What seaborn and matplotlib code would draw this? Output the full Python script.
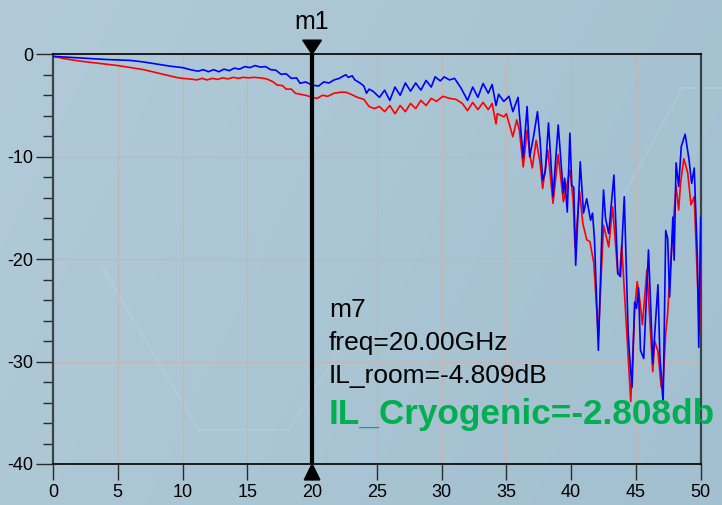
import numpy as np
import matplotlib
matplotlib.use("Agg")
import matplotlib.pyplot as plt
from matplotlib.ticker import MultipleLocator
from matplotlib.patches import Polygon
import seaborn as sns

# ---------------- data ----------------
freq_cryo = [0, 2, 4, 6, 7, 8, 9, 10, 10.6, 11.2, 11.6, 12.0, 12.4, 12.8, 13.2, 13.6, 14.0, 14.4,
             14.8, 15.2, 15.6, 16.0, 16.4, 16.8, 17.2, 17.6, 18.0, 18.4, 18.8, 19.07, 19.5, 20.0,
             20.5, 20.9, 21.3, 21.7, 22.1, 22.3, 22.6, 22.8, 23.1, 23.3, 23.7, 24.0, 24.2, 24.4,
             24.7, 25.2, 25.6, 26.0, 26.4, 26.8, 27.2, 27.6, 28.0, 28.4, 28.8, 29.2, 29.5, 29.9,
             30.2, 30.6, 31.0, 31.5, 32.0, 32.4, 32.8, 33.2, 33.6, 33.9, 34.2, 34.4, 34.8, 35.2,
             35.5, 35.9, 36.0, 36.3, 36.6, 36.8, 37.1, 37.4, 37.6, 37.8, 38.0, 38.25, 38.6, 39.0,
             39.4, 39.5, 39.7, 39.9, 40.05, 40.2, 40.35, 40.7, 40.95, 41.2, 41.5, 41.65, 41.8, 42.1,
             42.4, 42.5, 42.65, 42.9, 43.3, 43.6, 43.8, 44.1, 44.4, 44.55, 44.7, 44.9, 45.05, 45.2,
             45.35, 45.6, 45.97, 46.15, 46.3, 46.7, 46.85, 47.1, 47.3, 47.45, 47.6, 47.85, 47.95,
             48.1, 48.3, 48.5, 48.8, 49.1, 49.3, 49.5, 49.75, 49.85, 50.0]
il_cryo = [-0.2, -0.35, -0.5, -0.6, -0.75, -0.95, -1.15, -1.3, -1.5, -1.65, -1.5, -1.7, -1.5, -1.7,
           -1.45, -1.6, -1.35, -1.45, -1.2, -1.3, -1.1, -1.25, -1.2, -1.5, -1.55, -1.95, -1.9, -2.35,
           -2.3, -2.83, -2.7, -3.0, -3.1, -2.7, -2.8, -2.5, -2.35, -2.2, -2.0, -2.25, -2.1, -2.5,
           -2.8, -3.1, -3.8, -3.4, -3.6, -4.2, -3.5, -4.5, -3.2, -4.0, -2.8, -3.6, -2.8, -3.5,
           -2.55, -3.2, -2.2, -2.6, -2.2, -2.5, -2.35, -3.3, -4.5, -3.2, -4.2, -2.85, -3.8, -2.95,
           -5.0, -3.9, -4.6, -4.1, -5.6, -4.2, -5.8, -10.1, -5.1, -10.0, -8.0, -5.6, -8.4, -12.3,
           -11.5, -6.7, -13.9, -6.9, -13.6, -12.1, -15.4, -7.7, -12.8, -13.0, -20.6, -10.5, -15.5,
           -14.1, -16.2, -15.5, -18.1, -28.9, -16.2, -13.25, -16.0, -17.5, -11.8, -21.4, -21.7,
           -13.9, -27.2, -30.2, -32.5, -24.2, -24.8, -22.8, -28.9, -29.7, -19.1, -25.0, -30.2,
           -22.5, -29.5, -34.1, -17.2, -18.0, -23.7, -15.9, -20.1, -10.6, -12.9, -9.0, -7.8,
           -10.3, -12.6, -11.1, -20.1, -28.6, -15.9]

freq_room = [0, 1, 2, 3, 4, 5, 6, 7, 8, 9, 9.5, 10, 10.5, 11.1, 11.5, 11.9, 12.3, 12.7, 13.1, 13.5,
             13.9, 14.3, 14.7, 15.1, 15.5, 16.0, 16.5, 17.0, 17.3, 17.7, 18.0, 18.4, 18.7, 19.07,
             19.5, 20.0, 20.4, 20.8, 21.2, 21.7, 22.2, 22.6, 23.0, 23.5, 24.0, 24.4, 24.8, 25.2,
             25.6, 26.0, 26.4, 26.8, 27.2, 27.6, 28.0, 28.4, 28.8, 29.2, 29.6, 30.1, 30.6, 31.1,
             31.6, 32.0, 32.4, 32.8, 33.2, 33.6, 33.9, 34.2, 34.3, 34.8, 35.0, 35.5, 35.8, 36.0,
             36.3, 36.6, 36.8, 37.0, 37.3, 37.6, 37.8, 38.2, 38.6, 39.0, 39.4, 39.9, 40.15, 40.3,
             40.65, 40.9, 41.2, 41.45, 41.75, 42.1, 42.5, 42.9, 43.2, 43.6, 43.75, 43.9, 44.4, 44.6,
             44.9, 45.1, 45.3, 45.5, 45.85, 46.3, 46.45, 46.7, 46.95, 47.1, 47.3, 47.45, 47.6, 47.9,
             48.1, 48.3, 48.45, 48.7, 49.0, 49.25, 49.5, 49.9, 50.0]
il_room = [-0.2, -0.45, -0.65, -0.8, -0.95, -1.1, -1.3, -1.5, -1.8, -2.1, -2.25, -2.35, -2.4, -2.5,
           -2.35, -2.5, -2.35, -2.45, -2.3, -2.4, -2.25, -2.35, -2.25, -2.3, -2.25, -2.3, -2.4, -2.7,
           -3.0, -3.05, -3.4, -3.4, -3.8, -3.9, -4.0, -4.2, -4.3, -4.0, -4.1, -3.8, -3.7, -3.7, -3.9,
           -4.2, -4.4, -5.1, -5.3, -5.1, -5.6, -5.0, -5.8, -5.0, -5.6, -4.8, -5.3, -4.5, -5.0, -4.3,
           -4.6, -4.1, -4.3, -4.4, -4.8, -5.5, -4.7, -5.4, -4.7, -5.4, -4.8, -6.8, -5.8, -6.1, -5.8,
           -8.05, -6.4, -7.4, -11.0, -7.4, -9.7, -11.1, -8.4, -10.6, -13.1, -9.35, -14.55, -9.8,
           -14.4, -11.3, -14.2, -18.9, -13.4, -16.5, -18.1, -18.3, -20.4, -27.6, -16.7, -18.8,
           -14.9, -21.4, -21.5, -18.6, -29.5, -33.9, -25.0, -22.2, -24.0, -26.4, -21.0, -31.0,
           -28.0, -29.0, -32.5, -32.0, -27.2, -25.3, -22.0, -16.2, -12.9, -15.2, -12.5, -10.2,
           -11.6, -14.7, -13.9, -27.2, -17.2]

x_ticks = [0, 5, 10, 15, 20, 25, 30, 35, 40, 45, 50]
y_ticks = [0, -10, -20, -30, -40]
marker_freq = 20
marker_lines = ["m7", "freq=20.00GHz", "IL_room=-4.809dB"]
cryo_text = "IL_Cryogenic=-2.808db"

# ---------------- style ----------------
sns.set_theme(style="white")
plt.rcParams["font.family"] = ["Liberation Sans", "DejaVu Sans"]
plt.rcParams["axes.unicode_minus"] = False

W, H = 722, 505
fig = plt.figure(figsize=(W / 100, H / 100), dpi=100)

# background gradient
bg = fig.add_axes([0, 0, 1, 1], zorder=-10)
gx = np.linspace(0, 1, 300)
gy = np.linspace(0, 1, 200)
GX, GY = np.meshgrid(gx, gy)
c_left = np.array([178, 202, 216]) / 255
c_right = np.array([162, 192, 208]) / 255
t = (0.75 * GX + 0.25 * GY)[..., None]
img = c_left * (1 - t) + c_right * t
bg.imshow(img, aspect="auto", extent=[0, 1, 0, 1], origin="upper")
# faint decorative hexagon strokes
hex_col = (1, 1, 1, 0.09)
for xs, ys in [([0.945, 1.0], [88, 88]), ([0.945, 0.86], [88, 200]),
               ([0.14, 0.275], [265, 430]), ([0.275, 0.40], [430, 430]),
               ([0.40, 0.47], [430, 350])]:
    bg.plot(xs, [1 - v / H for v in ys], color=hex_col, lw=1.5)
bg.set_xlim(0, 1)
bg.set_ylim(0, 1)
bg.axis("off")

# main axes
left, right = 53 / W, 700.7 / W
bottom, top = 1 - 464 / H, 1 - 54.3 / H
ax = fig.add_axes([left, bottom, right - left, top - bottom])
ax.set_facecolor("none")

sns.lineplot(x=freq_room, y=il_room, color="#ff0000", linewidth=1.2, ax=ax, zorder=3)
sns.lineplot(x=freq_cryo, y=il_cryo, color="#0000ff", linewidth=1.2, ax=ax, zorder=4)

ax.set_xlim(0, 50)
ax.set_ylim(-40, 0)
ax.set_xticks(x_ticks)
ax.set_xticklabels([str(v) for v in x_ticks])
ax.set_yticks(y_ticks)
ax.set_yticklabels([str(v) for v in y_ticks])
ax.yaxis.set_minor_locator(MultipleLocator(2))
ax.set_xlabel("")
ax.set_ylabel("")

ax.grid(True, which="major", color="#c4b6b2", linewidth=0.9)
ax.set_axisbelow(True)

ax.tick_params(axis="y", which="major", direction="out", length=12.5, width=1.0,
               color="#2b2b2b", labelsize=13, pad=1.5, left=True)
ax.tick_params(axis="y", which="minor", direction="out", length=7, width=1.0,
               color="#2b2b2b", left=True)
ax.tick_params(axis="x", which="major", direction="out", length=11.5, width=1.0,
               color="#2b2b2b", labelsize=13, pad=3, bottom=True)
for lab in ax.get_xticklabels() + ax.get_yticklabels():
    lab.set_color("black")

for side in ["top", "bottom"]:
    ax.spines[side].set_color("black")
    ax.spines[side].set_linewidth(1.2)
    ax.spines[side].set_visible(True)
for side in ["left", "right"]:
    ax.spines[side].set_color("#3a4348")
    ax.spines[side].set_linewidth(1.6)
    ax.spines[side].set_visible(True)

# marker m1
ax.axvline(marker_freq, color="black", linewidth=3.0, zorder=6)
ax.add_patch(Polygon([[marker_freq - 0.72, 1.38], [marker_freq + 0.72, 1.38], [marker_freq, 0]],
                     closed=True, color="black", clip_on=False, zorder=7))
ax.add_patch(Polygon([[marker_freq - 0.6, -41.55], [marker_freq + 0.6, -41.55], [marker_freq, -40]],
                     closed=True, color="black", clip_on=False, zorder=7))
ax.text(marker_freq, 3.2, "m1", ha="center", va="center", fontsize=18, color="black",
        clip_on=False)

# marker readout
tx = 21.3
for txt, yy in zip(marker_lines, [-24.97, -28.2, -31.4]):
    ax.text(tx, yy, txt, ha="left", va="center", fontsize=19, color="black", zorder=8)
ax.text(tx, -35.2, cryo_text, ha="left", va="center", fontsize=25.3, fontweight="bold",
        color="#00b050", zorder=8, clip_on=False)

fig.savefig("out.png", dpi=100)
